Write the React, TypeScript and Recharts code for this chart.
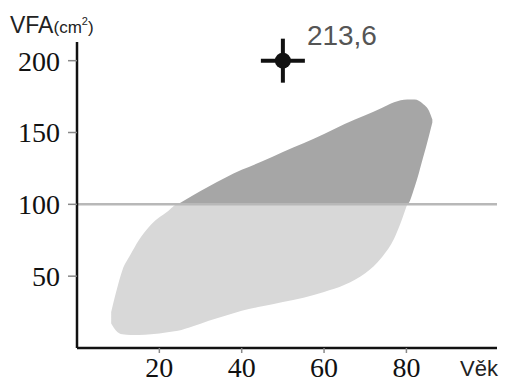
import React from "react";
import {
  ComposedChart,
  Area,
  Scatter,
  XAxis,
  YAxis,
  ReferenceLine,
} from "recharts";

// outline of the reference band (age -> VFA cm²)
const ages = [8.3, 9.5, 11, 13, 15, 18, 22, 24.5, 28, 32, 36, 40, 45, 50, 55, 60, 65, 70, 74, 77, 80.2, 82, 84, 85.5, 86.3];
const lowerEdge = [17, 12, 9.5, 9, 9, 9.5, 11, 12, 15, 19, 22.5, 26, 29, 32, 35, 39, 44, 52, 63, 76, 100, 112, 132, 148, 157];
const upperEdge = [25, 39, 54, 65, 75, 86, 95, 100, 106, 112.5, 118.5, 124, 130, 136.5, 142.5, 149, 156, 162, 167, 171, 173, 173, 170, 165, 159];

const limit = 100;

const patientAge = [50];
const patientVfa = [200];
const patientLabel = ["213,6"];

const xTicks = [20, 40, 60, 80];
const yTicks = [50, 100, 150, 200];

const band = ages.map((age, i) => {
  const lo = lowerEdge[i];
  const hi = upperEdge[i];
  return {
    age,
    light: lo <= limit ? [lo, Math.min(hi, limit)] : null,
    dark: hi >= limit ? [Math.max(lo, limit), hi] : null,
  };
});

const patient = patientAge.map((age, i) => ({ age, vfa: patientVfa[i], label: patientLabel[i] }));

function CrossMark(props: any) {
  const { cx, cy, payload } = props;
  return (
    <g>
      <line x1={cx - 22} x2={cx + 22} y1={cy} y2={cy} stroke="#111" strokeWidth={4} />
      <line x1={cx} x2={cx} y1={cy - 22} y2={cy + 22} stroke="#111" strokeWidth={4} />
      <circle cx={cx} cy={cy} r={8} fill="#111" />
      <text x={cx + 24} y={cy - 16} fill="#555" fontSize={28} fontFamily="Liberation Sans, Arial, sans-serif">
        {payload.label}
      </text>
    </g>
  );
}

const serifTick = { fill: "#111", fontSize: 28, fontFamily: "Liberation Serif, Times New Roman, serif" };

export default function App() {
  return (
    <div style={{ position: "relative", width: 496, height: 376 }}>
      <ComposedChart
        width={496}
        height={376}
        data={band}
        margin={{ top: 34, right: 7, bottom: 0, left: 0 }}
      >
        <XAxis
          dataKey="age"
          type="number"
          domain={[0, 102]}
          ticks={xTicks}
          tick={serifTick}
          tickSize={5}
          tickMargin={4}
          tickLine={{ stroke: "#888", strokeWidth: 1.5 }}
          axisLine={{ stroke: "#111", strokeWidth: 2.5 }}
          height={36}
        />
        <YAxis
          type="number"
          domain={[0, 213]}
          ticks={yTicks}
          tick={serifTick}
          tickSize={9}
          tickMargin={8}
          tickLine={{ stroke: "#888", strokeWidth: 1.5 }}
          axisLine={{ stroke: "#111", strokeWidth: 2.5 }}
          width={69}
        />
        <ReferenceLine y={limit} stroke="#b8b8b8" strokeWidth={2.5} />
        <Area
          dataKey="light"
          type="monotone"
          stroke="none"
          fill="#d8d8d8"
          fillOpacity={1}
          isAnimationActive={false}
        />
        <Area
          dataKey="dark"
          type="monotone"
          stroke="none"
          fill="#a6a6a6"
          fillOpacity={1}
          isAnimationActive={false}
        />
        <Scatter data={patient} dataKey="vfa" shape={CrossMark} isAnimationActive={false} />
      </ComposedChart>
      <svg
        width={496}
        height={376}
        style={{ position: "absolute", left: 0, top: 0, pointerEvents: "none" }}
      >
        <text x={2} y={25} fill="#222" fontFamily="Liberation Sans, Arial, sans-serif">
          <tspan fontSize={23}>VFA</tspan>
          <tspan fontSize={17}>(cm</tspan>
          <tspan fontSize={11} dy={-8}>2</tspan>
          <tspan fontSize={17} dy={8}>)</tspan>
        </text>
        <text x={452} y={368} fill="#222" fontSize={22} fontFamily="Liberation Sans, Arial, sans-serif">
          Věk
        </text>
      </svg>
    </div>
  );
}
